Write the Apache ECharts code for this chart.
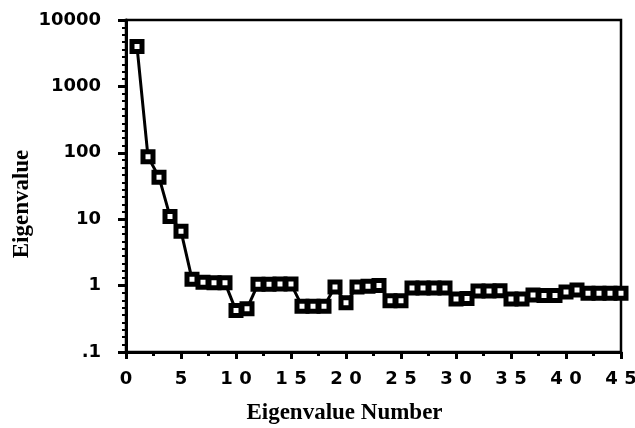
<!DOCTYPE html>
<html>
<head>
<meta charset="utf-8">
<script src="https://cdn.jsdelivr.net/npm/echarts@6/dist/echarts.min.js"></script>
<style>
  html, body { margin: 0; padding: 0; background: #fff; }
  #chart { width: 635px; height: 428px; }
</style>
</head>
<body>
<div id="chart"></div>
<script>
// Valeurs (numéro de valeur propre -> valeur propre)
const eigenNumbers = [];
for (let i = 1; i <= 45; i++) eigenNumbers.push(i);
const eigenValues = [
    4000, 87, 43, 11, 6.6, 1.25, 1.12, 1.1, 1.1, 0.42,
    0.45, 1.05, 1.05, 1.06, 1.06, 0.49, 0.49, 0.49, 0.95, 0.55,
    0.95, 0.98, 1.0, 0.59, 0.59, 0.92, 0.92, 0.92, 0.92, 0.63,
    0.64, 0.83, 0.83, 0.84, 0.63, 0.63, 0.72, 0.71, 0.71, 0.80,
    0.86, 0.77, 0.77, 0.77, 0.77
];
const xTicks = [0, 5, 10, 15, 20, 25, 30, 35, 40, 45];
const yTickLabels = { 10000: '10000', 1000: '1000', 100: '100', 10: '10', 1: '1', 0.1: '.1' };

const points = eigenNumbers.map((n, i) => [n, eigenValues[i]]);

const chartDom = document.getElementById('chart');
const myChart = echarts.init(chartDom);

const tickFont = {
    color: '#000',
    fontFamily: 'DejaVu Sans',
    fontWeight: 'bold',
    fontSize: 18
};

const nameFont = {
    color: '#000',
    fontFamily: 'Liberation Serif',
    fontWeight: 'bold',
    fontSize: 23
};

const option = {
    animation: false,
    grid: {
        left: 126,
        right: 14,
        top: 20,
        bottom: 76,
        outerBoundsMode: 'none',
        containLabel: false,
        show: true,
        borderColor: '#000',
        borderWidth: 2.5
    },
    xAxis: {
        type: 'value',
        min: 0,
        max: 45,
        interval: 5,
        name: 'Eigenvalue Number',
        nameLocation: 'middle',
        nameGap: 50,
        nameMoveOverlap: false,
        nameTextStyle: Object.assign({ padding: [0, 58, 0, 0] }, nameFont),
        axisLine: { onZero: false, lineStyle: { color: '#000', width: 3 } },
        axisTick: { inside: false, length: 7, lineStyle: { color: '#000', width: 3 } },
        minorTick: { show: true, splitNumber: 2, length: 4, lineStyle: { color: '#000', width: 3 } },
        axisLabel: Object.assign({ margin: 18, formatter: function (v) {
            return xTicks.includes(v) ? String(v).split('').join(' ') : '';
        } }, tickFont),
        splitLine: { show: false }
    },
    yAxis: [
        {
            type: 'log',
            logBase: 10,
            min: 0.1,
            max: 10000,
            name: 'Eigenvalue',
            nameLocation: 'middle',
            nameGap: 92,
            nameMoveOverlap: false,
            nameRotate: 90,
            nameTextStyle: Object.assign({ padding: [0, 36, 0, 0] }, nameFont),
            axisLine: { onZero: false, lineStyle: { color: '#000', width: 3 } },
            axisTick: { inside: false, length: 8, lineStyle: { color: '#000', width: 3 } },
            axisLabel: Object.assign({ margin: 25, formatter: function (v) {
                const key = Math.round(v * 10) / 10;
                return yTickLabels[key] !== undefined ? yTickLabels[key] : '';
            } }, tickFont),
            splitLine: { show: false }
        },
        {
            // axe fantôme : uniquement pour les petites graduations entre décades
            type: 'value',
            position: 'left',
            min: -1,
            max: 4,
            interval: 1,
            axisLine: { show: false, onZero: false },
            axisTick: { show: true, inside: false, length: 8, lineStyle: { color: '#000', width: 3 } },
            axisLabel: { show: false },
            minorTick: { show: true, splitNumber: 9, length: 4, lineStyle: { color: '#000', width: 2 } },
            splitLine: { show: false }
        }
    ],
    series: [
        {
            type: 'line',
            yAxisIndex: 0,
            data: points,
            symbol: 'rect',
            symbolSize: 10,
            lineStyle: { color: '#000', width: 3 },
            itemStyle: { color: '#fff', borderColor: '#000', borderWidth: 5 }
        }
    ]
};

myChart.setOption(option);
</script>
</body>
</html>
